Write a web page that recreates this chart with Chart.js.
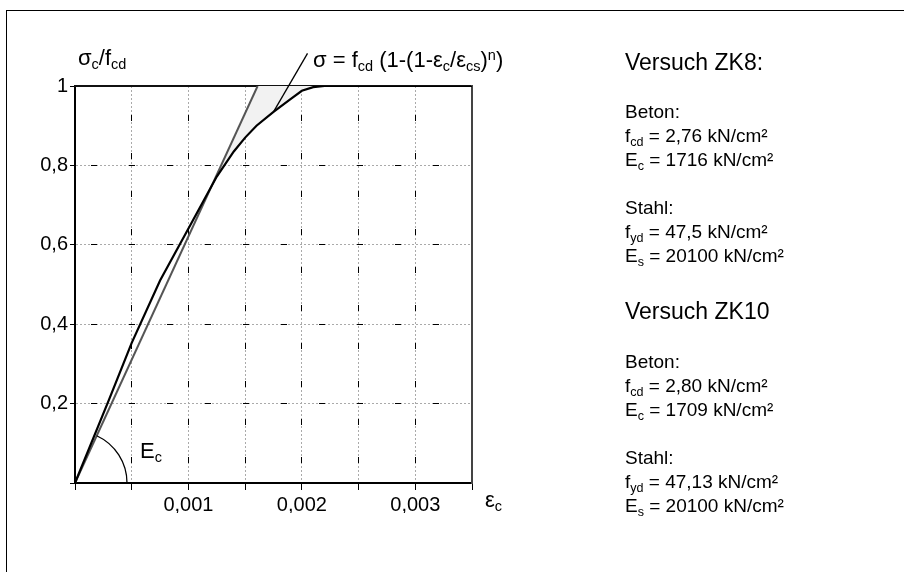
<!DOCTYPE html>
<html>
<head>
<meta charset="utf-8">
<script src="https://cdn.jsdelivr.net/npm/chart.js@4.4.1/dist/chart.umd.min.js"></script>
<style>
body { margin: 0; background: #fff; font-family: "Liberation Sans", Arial, sans-serif; }
#wrap { position: relative; width: 904px; height: 572px; overflow: hidden; }
#frame { position: absolute; left: 6px; top: 10px; width: 960px; height: 620px; border: 1.5px solid #000; }
canvas { position: absolute; left: 0; top: 0; }
.t { position: absolute; white-space: nowrap; color: #000; line-height: 24px; }
sub, sup { font-size: .66em; line-height: 0; position: relative; vertical-align: baseline; }
sub { top: .3em; }
sup { top: -.5em; }
.big { font-size: 23px; }
.sm { font-size: 19px; }
.lbl { font-size: 22px; }
</style>
</head>
<body>
<div id="wrap">
  <div id="frame"></div>
  <canvas id="grafico" width="904" height="572"></canvas>

  <div class="t lbl" style="left:78px; top:46px;">σ<sub>c</sub>/f<sub>cd</sub></div>
  <div class="t lbl" style="left:313px; top:48px;">σ = f<sub>cd</sub> (1-(1-ε<sub>c</sub>/ε<sub>cs</sub>)<sup>n</sup>)</div>
  <div class="t lbl" style="left:140px; top:439px;">E<sub>c</sub></div>
  <div class="t lbl" style="left:485px; top:488px;">ε<sub>c</sub></div>

  <div class="t big" style="left:625px; top:50px;">Versuch ZK8:</div>
  <div class="t sm" style="left:625px; top:100px;">Beton:<br>f<sub>cd</sub> = 2,76 kN/cm²<br>E<sub>c</sub> = 1716 kN/cm²</div>
  <div class="t sm" style="left:625px; top:196px;">Stahl:<br>f<sub>yd</sub> = 47,5 kN/cm²<br>E<sub>s</sub> = 20100 kN/cm²</div>

  <div class="t big" style="left:625px; top:299px;">Versuch ZK10</div>
  <div class="t sm" style="left:625px; top:350px;">Beton:<br>f<sub>cd</sub> = 2,80 kN/cm²<br>E<sub>c</sub> = 1709 kN/cm²</div>
  <div class="t sm" style="left:625px; top:446px;">Stahl:<br>f<sub>yd</sub> = 47,13 kN/cm²<br>E<sub>s</sub> = 20100 kN/cm²</div>
</div>

<script>
// gemessene Kurve sigma_c/f_cd ueber eps_c
var dehnung = [0, 0.0003, 0.0005, 0.00075, 0.00104, 0.00125, 0.0014, 0.0015, 0.0016, 0.00175, 0.0019, 0.002, 0.0021, 0.0022, 0.0035];
var spannung = [0, 0.21, 0.353, 0.51, 0.662, 0.772, 0.835, 0.87, 0.9, 0.935, 0.967, 0.988, 0.997, 1.0, 1.0];

// Tangente mit E_c
var tangenteDehnung = [0, 0.00161];
var tangenteSpannung = [0, 1];

// Achsen
var xMax = 0.0035, xStep = 0.0005;
var yMax = 1, yStep = 0.2;

// Hinweislinie zur Formel (Datenkoordinaten)
var hinweisVon = [0.00175, 0.935];
var hinweisBis = [0.00205, 1.082];

function punkte(xs, ys) {
    return xs.map(function (x, i) { return {x: x, y: ys[i]}; });
}

// Schnittpunkt Tangente / Kurve suchen (ab dem oberen Teil)
var steigung = tangenteSpannung[1] / tangenteDehnung[1];
var schnitt = null;
for (var i = 1; i < dehnung.length; i++) {
    var d0 = spannung[i - 1] - steigung * dehnung[i - 1];
    var d1 = spannung[i] - steigung * dehnung[i];
    if (i > 2 && d0 >= 0 && d1 < 0) {
        var t = d0 / (d0 - d1);
        schnitt = {x: dehnung[i - 1] + t * (dehnung[i] - dehnung[i - 1]),
                   y: spannung[i - 1] + t * (spannung[i] - spannung[i - 1])};
        break;
    }
}
var ersteEins = dehnung[spannung.indexOf(1)];
// obere Begrenzung der grauen Flaeche
var flaecheOben = [schnitt, {x: tangenteDehnung[1], y: 1}, {x: ersteEins, y: 1}];

function fmt(v) {
    return v.toFixed(3).replace('.', ',');
}

var schrift = {family: '"Liberation Sans", Arial, sans-serif', size: 20};

var zusatz = {
    id: 'zusatz',
    afterDatasetsDraw: function (chart) {
        var ctx = chart.ctx, xs = chart.scales.x, ys = chart.scales.y;
        ctx.save();
        // Hinweislinie
        ctx.strokeStyle = '#000';
        ctx.lineWidth = 1.3;
        ctx.beginPath();
        ctx.moveTo(xs.getPixelForValue(hinweisVon[0]), ys.getPixelForValue(hinweisVon[1]));
        ctx.lineTo(xs.getPixelForValue(hinweisBis[0]), ys.getPixelForValue(hinweisBis[1]));
        ctx.stroke();
        // Winkelbogen E_c
        var ox = xs.getPixelForValue(0), oy = ys.getPixelForValue(0);
        var px = xs.getPixelForValue(tangenteDehnung[1]), py = ys.getPixelForValue(tangenteSpannung[1]);
        var w = Math.atan2(py - oy, px - ox);
        ctx.beginPath();
        ctx.arc(ox, oy, 52, w, 0);
        ctx.stroke();
        ctx.restore();
    }
};

var ctx = document.querySelector('#grafico').getContext('2d');
var chart = new Chart(ctx, {
    type: 'scatter',
    data: {
        datasets: [
            {
                label: 'Flaeche',
                data: flaecheOben,
                showLine: true,
                borderWidth: 0,
                borderColor: 'rgba(0,0,0,0)',
                backgroundColor: '#f2f2f2',
                pointRadius: 0,
                fill: {target: 2},
                order: 3
            },
            {
                label: 'Tangente',
                data: punkte(tangenteDehnung, tangenteSpannung),
                showLine: true,
                borderColor: '#555',
                borderWidth: 2,
                pointRadius: 0,
                fill: false,
                order: 2
            },
            {
                label: 'Versuch',
                data: punkte(dehnung, spannung),
                showLine: true,
                borderColor: '#000',
                borderWidth: 2.2,
                pointRadius: 0,
                fill: false,
                order: 1
            }
        ]
    },
    options: {
        responsive: false,
        animation: false,
        events: [],
        layout: {padding: {left: 35, top: 66, right: 422, bottom: 59}},
        plugins: {legend: {display: false}, tooltip: {enabled: false}},
        scales: {
            x: {
                type: 'linear', min: 0, max: xMax,
                afterFit: function (s) { s.height = 30; },
                ticks: {stepSize: xStep, color: '#000', font: schrift, padding: 3, maxRotation: 0,
                    callback: function (v) {
                        var k = v * 1000;
                        return (v > 0 && Math.abs(k - Math.round(k)) < 1e-6) ? fmt(v) : '';
                    }},
                grid: {color: '#aaa', lineWidth: 1, tickColor: '#000', tickLength: 7, tickBorderDash: []},
                border: {color: '#000', width: 2, dash: [2, 2]}
            },
            y: {
                type: 'linear', min: 0, max: yMax,
                afterFit: function (s) { s.width = 40; },
                ticks: {stepSize: yStep, color: '#000', font: schrift, padding: 2,
                    callback: function (v) {
                        return v === 0 ? '' : String(+v.toFixed(1)).replace('.', ',');
                    }},
                grid: {color: '#aaa', lineWidth: 1, tickColor: '#000', tickLength: 5, tickBorderDash: []},
                border: {color: '#000', width: 2, dash: [2, 2]}
            },
            x2: {
                type: 'linear', position: 'top', min: 0, max: xMax,
                afterFit: function (s) { s.height = 20; },
                ticks: {stepSize: xStep, display: false},
                grid: {color: '#000', lineWidth: 1, drawTicks: false},
                border: {color: '#111', width: 2, dash: [6, 32], dashOffset: 10}
            },
            y2: {
                type: 'linear', position: 'right', min: 0, max: yMax,
                afterFit: function (s) { s.width = 10; },
                ticks: {stepSize: yStep, display: false},
                grid: {color: '#000', lineWidth: 1, drawTicks: false},
                border: {color: '#444', width: 2, dash: [6, 32], dashOffset: 22}
            }
        }
    },
    plugins: [zusatz]
});
</script>
</body>
</html>
